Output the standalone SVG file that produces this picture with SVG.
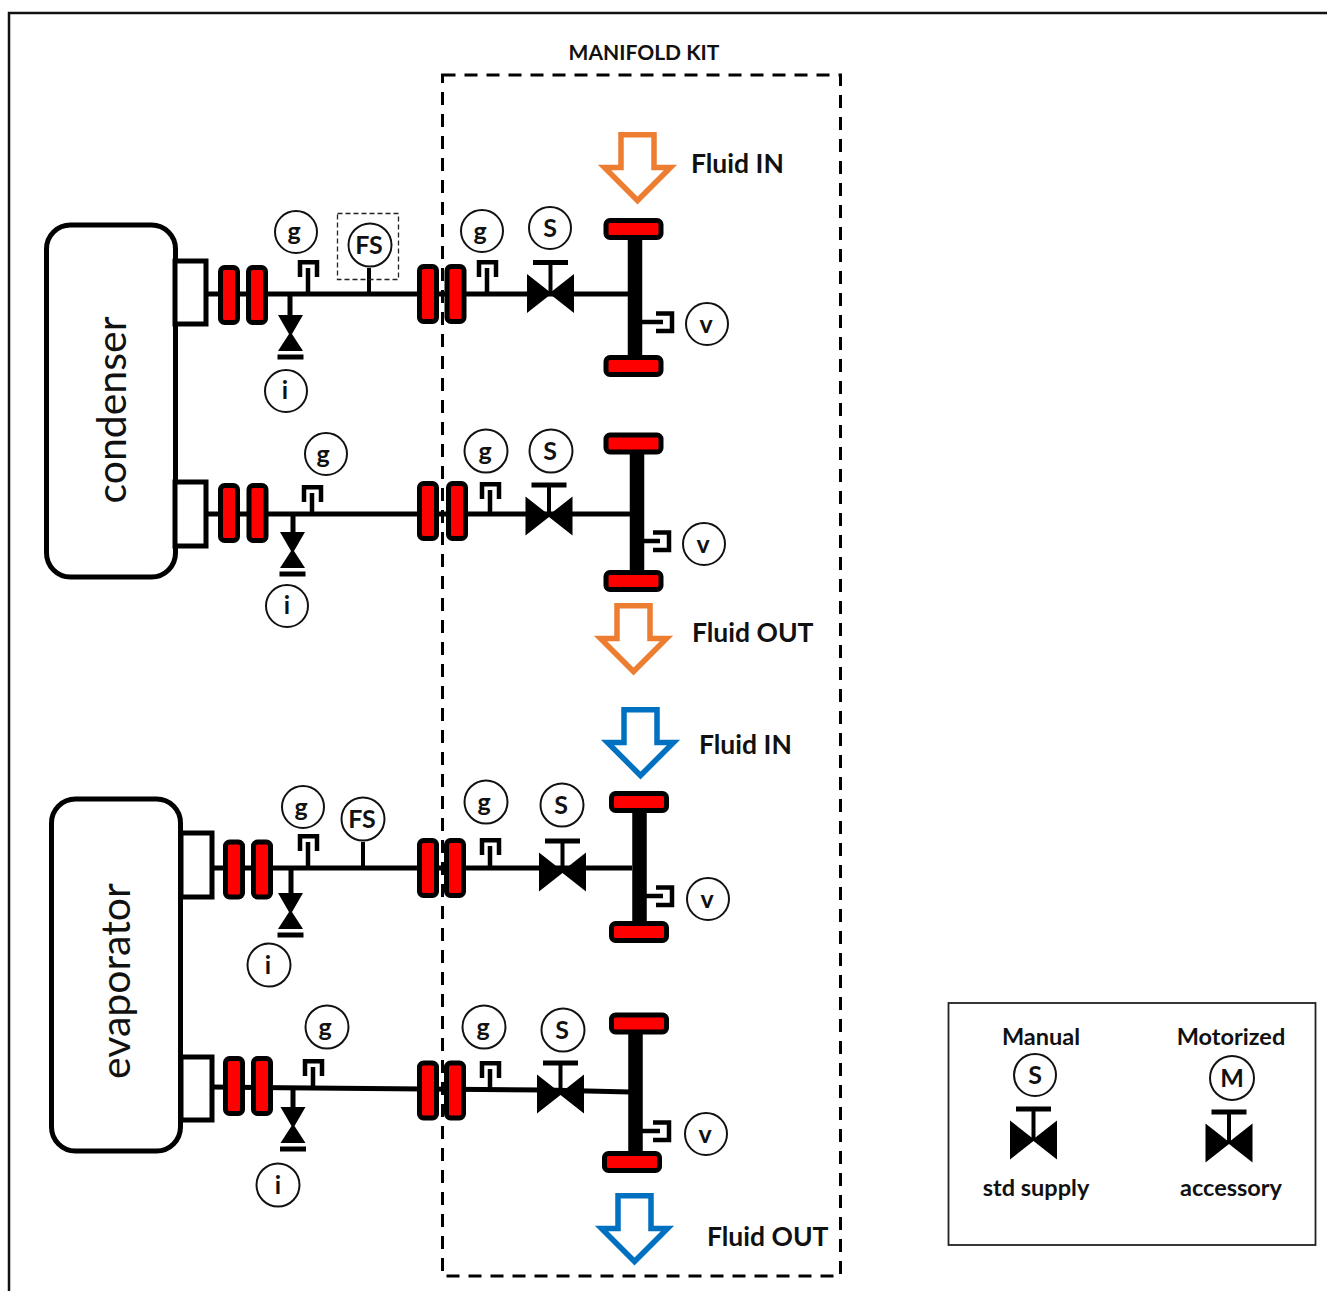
<svg xmlns="http://www.w3.org/2000/svg" width="1327" height="1291" viewBox="0 0 1327 1291">
<style>
text{font-family:"Lato","Open Sans",sans-serif;fill:#111;text-anchor:middle}
.b{font-weight:700;font-size:25px}
.l{text-anchor:start;font-weight:700;font-size:26.500px}
.m{font-weight:700;font-size:23.500px}
.k{font-weight:700;font-size:21px}
.big{font-size:41px}
.c{fill:#fff;stroke:#111;stroke-width:2}
.p{fill:none;stroke:#000;stroke-width:5}
.f{fill:none;stroke:#000;stroke-width:4.500}
.n{fill:#fff;stroke:#000;stroke-width:5}
.v{fill:#000}
.fl{fill:#f00;stroke:#000;stroke-width:5}
.or{fill:#fff;stroke:#ed7d31;stroke-width:5.500}
.bl{fill:#fff;stroke:#0070c0;stroke-width:5.500}
</style>
<defs>
<g id="valve"><path class="v" d="M-23.500-19.500L0-1L23.500-19.500V19.500L0 1L-23.500 19.500Z"/><path d="M0 0V-31" stroke="#000" stroke-width="4"/><path class="p" d="M-17.500-31H17.500"/></g>
<g id="drain"><path class="v" d="M-12.500 0H12.500L1.500 19L12.500 36H-12.500L-1.500 19Z"/><rect x="-13" y="39.500" width="26" height="5" class="v"/></g>
<g id="gfit"><path class="f" d="M-8.500 17V2.250H8.500V17"/></g>
<g id="vfit"><path class="f" d="M-10-8.500H6V9H-10"/><path d="M-24 0H-3" stroke="#000" stroke-width="4.500" fill="none"/></g>
<rect id="vflange" class="fl" x="-8.500" y="-27.500" width="17" height="55" rx="4"/>
<rect id="hflange" class="fl" x="-27.500" y="-8.500" width="55" height="17" rx="4"/>
<path id="arrow" d="M-16.500-33.250H16.500V-0.500H33L0 32.500L-33-0.500H-16.500Z"/>
</defs>

<g id="frame"><path d="M9 1291V13H1327" fill="none" stroke="#111" stroke-width="2.500"/></g>
<g id="manifold-kit"><rect x="442.500" y="75" width="398" height="1201" fill="none" stroke="#000" stroke-width="3" stroke-dasharray="13 9"/><text class="k" x="644" y="60">MANIFOLD KIT</text></g>

<g id="connectors">
<path class="p" d="M206 294H630M206 514H632M212 868H632M212 1087L545 1090L630 1092"/>
<path class="p" d="M290 294V317M293 514V534M291 868V895M293 1088V1109"/>
<path d="M369 294V268M363 868V842" fill="none" stroke="#000" stroke-width="4"/>
<path fill="none" stroke="#000" stroke-width="4.500" d="M308 268V294M487 268V294M312 493V514M490 490V514M308 842V868M490 846V868M313 1067V1088M490 1069V1090"/>
<path fill="none" stroke="#000" stroke-width="14.500" d="M635 232V362M637 447V578M639.500 806V928M635.500 1027V1158"/>
</g>

<g id="condenser"><rect x="46.500" y="225" width="129" height="352" rx="24" class="n"/><text class="big" transform="translate(126,410) rotate(-90)">condenser</text></g>
<g id="evaporator"><rect x="51.500" y="799" width="129" height="352" rx="24" class="n"/><text class="big" transform="translate(130,981) rotate(-90)">evaporator</text></g>

<g id="nozzles">
<rect x="175" y="261" width="31" height="63" class="n"/><rect x="175" y="482" width="31" height="64" class="n"/>
<rect x="181" y="833" width="31" height="64" class="n"/><rect x="181" y="1057" width="31" height="63" class="n"/>
</g>

<g id="flanges">
<use href="#vflange" x="229" y="295"/><use href="#vflange" x="257" y="295"/><use href="#vflange" x="428" y="294"/><use href="#vflange" x="455.500" y="294"/>
<use href="#vflange" x="229" y="513"/><use href="#vflange" x="257.500" y="513"/><use href="#vflange" x="428" y="511"/><use href="#vflange" x="457" y="511"/>
<use href="#vflange" x="234" y="869.500"/><use href="#vflange" x="262" y="869.500"/><use href="#vflange" x="428" y="868"/><use href="#vflange" x="455" y="868"/>
<use href="#vflange" x="234" y="1086"/><use href="#vflange" x="262" y="1086"/><use href="#vflange" x="428" y="1090.500"/><use href="#vflange" x="455" y="1090.500"/>
</g>

<g id="c1-instruments">
<use href="#drain" x="290.500" y="315"/><use href="#gfit" x="308.500" y="260"/><use href="#gfit" x="487.500" y="260"/><use href="#valve" x="550.500" y="293.500"/>
<circle class="c" cx="296" cy="232" r="21"/><text class="b" x="294" y="240">g</text>
<circle class="c" cx="286" cy="391" r="21"/><text class="b" x="285" y="399">i</text>
<rect x="337.500" y="213.500" width="61" height="66" fill="none" stroke="#222" stroke-width="1.300" stroke-dasharray="5 3"/>
<circle class="c" cx="370" cy="245" r="21.500"/><text class="b" x="369" y="254">FS</text>
<circle class="c" cx="482" cy="231" r="21"/><text class="b" x="480" y="240">g</text>
<circle class="c" cx="550" cy="228" r="21"/><text class="b" x="550" y="237">S</text>
</g>
<g id="c1-header"><use href="#hflange" x="633.500" y="229"/><use href="#hflange" x="633.500" y="366"/><use href="#vfit" x="666" y="322"/><circle class="c" cx="707" cy="324" r="21"/><text class="b" x="706" y="333">v</text></g>

<g id="c2-instruments">
<use href="#drain" x="292.500" y="532"/><use href="#gfit" x="312.500" y="485"/><use href="#gfit" x="490.500" y="482"/><use href="#valve" x="549" y="516"/>
<circle class="c" cx="326" cy="454" r="21"/><text class="b" x="323" y="463">g</text>
<circle class="c" cx="287" cy="606" r="21"/><text class="b" x="287" y="614">i</text>
<circle class="c" cx="486" cy="451" r="21.500"/><text class="b" x="485" y="460">g</text>
<circle class="c" cx="551" cy="451" r="21.500"/><text class="b" x="550" y="460">S</text>
</g>
<g id="c2-header"><use href="#hflange" x="633.500" y="443.500"/><use href="#hflange" x="633.500" y="581"/><use href="#vfit" x="663" y="541"/><circle class="c" cx="704" cy="544" r="21"/><text class="b" x="703" y="553">v</text></g>

<g id="e1-instruments">
<use href="#drain" x="290.500" y="893"/><use href="#gfit" x="308.500" y="834"/><use href="#gfit" x="490.500" y="838"/><use href="#valve" x="562.500" y="872"/>
<circle class="c" cx="303" cy="807" r="21"/><text class="b" x="301" y="816">g</text>
<circle class="c" cx="269" cy="965" r="21.500"/><text class="b" x="268" y="974">i</text>
<circle class="c" cx="363" cy="819" r="21.500"/><text class="b" x="362" y="828">FS</text>
<circle class="c" cx="486" cy="802" r="21.500"/><text class="b" x="484" y="811">g</text>
<circle class="c" cx="562" cy="805" r="21.500"/><text class="b" x="561" y="814">S</text>
</g>
<g id="e1-header"><use href="#hflange" x="639" y="802"/><use href="#hflange" x="639" y="932"/><use href="#vfit" x="666" y="896"/><circle class="c" cx="708" cy="899" r="21"/><text class="b" x="707" y="908">v</text></g>

<g id="e2-instruments">
<use href="#drain" x="293" y="1107"/><use href="#gfit" x="313.500" y="1059"/><use href="#gfit" x="490.500" y="1061"/><use href="#valve" x="560.500" y="1094"/>
<circle class="c" cx="327" cy="1027" r="21.500"/><text class="b" x="325" y="1036">g</text>
<circle class="c" cx="278" cy="1185" r="21.500"/><text class="b" x="278" y="1194">i</text>
<circle class="c" cx="484" cy="1027" r="21.500"/><text class="b" x="483" y="1036">g</text>
<circle class="c" cx="563" cy="1030" r="21.500"/><text class="b" x="562" y="1039">S</text>
</g>
<g id="e2-header"><use href="#hflange" x="639" y="1023.500"/><use href="#hflange" x="632" y="1162"/><use href="#vfit" x="663" y="1131"/><circle class="c" cx="706" cy="1134" r="21"/><text class="b" x="705" y="1143">v</text></g>

<g id="flows">
<use href="#arrow" class="or" x="637.500" y="168"/><text class="l" x="691" y="173">Fluid IN</text>
<use href="#arrow" class="or" x="633.500" y="639"/><text class="l" x="692" y="642">Fluid OUT</text>
<use href="#arrow" class="bl" x="640.500" y="743"/><text class="l" x="699" y="754">Fluid IN</text>
<use href="#arrow" class="bl" x="634.500" y="1229"/><text class="l" x="707" y="1246">Fluid OUT</text>
</g>

<g id="legend">
<rect x="948.500" y="1003" width="367" height="242" fill="#fff" stroke="#222" stroke-width="1.800"/>
<text class="m" x="1041" y="1045">Manual</text><text class="m" x="1231" y="1045">Motorized</text>
<circle class="c" cx="1035" cy="1075" r="21"/><text class="b" x="1035" y="1084">S</text>
<circle class="c" cx="1232" cy="1078" r="22"/><text class="b" x="1232" y="1087">M</text>
<use href="#valve" x="1033.500" y="1140"/><use href="#valve" x="1229" y="1143"/>
<text class="m" x="1036" y="1196">std supply</text><text class="m" x="1231" y="1196">accessory</text>
</g>
</svg>
